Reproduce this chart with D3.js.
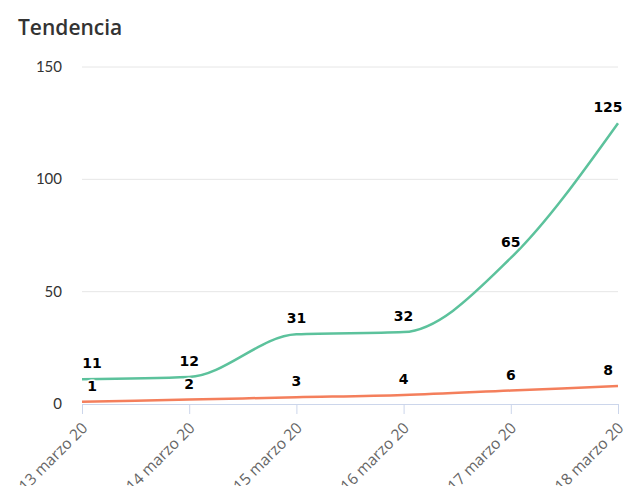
<!DOCTYPE html>
<html>
<head>
<meta charset="utf-8">
<script src="https://cdn.jsdelivr.net/npm/d3@7"></script>
<style>
  body { margin: 0; background: #fff; }
  svg { display: block; font-family: Lato, "Open Sans", sans-serif; }
</style>
</head>
<body>
<svg id="chart" width="630" height="486"></svg>
<script>
// datos del grafico
const fechas = ["13 marzo 20", "14 marzo 20", "15 marzo 20", "16 marzo 20", "17 marzo 20", "18 marzo 20"];
const serieVerde = [11, 12, 31, 32, 65, 125];
const serieNaranja = [1, 2, 3, 4, 6, 8];
const ticksY = [0, 50, 100, 150];

const svg = d3.select("#chart");
const margenIzq = 82, margenDer = 618, margenSup = 67, margenInf = 404;

let x = d3.scalePoint().domain(fechas).range([margenIzq, margenDer]);
let y = d3.scaleLinear().domain([0, 150]).range([margenInf, margenSup]);

svg.append("text")
    .attr("x", 18).attr("y", 35)
    .attr("font-family", "'Open Sans', sans-serif")
    .attr("font-size", 21).attr("font-weight", 600)
    .attr("fill", "#333")
    .text("Tendencia");

// lineas de la cuadricula
svg.append("g").selectAll("line")
    .data(ticksY.filter(d => d > 0))
    .join("line")
    .attr("x1", margenIzq).attr("x2", margenDer)
    .attr("y1", d => y(d)).attr("y2", d => y(d))
    .attr("stroke", "#e6e6e6").attr("stroke-width", 1);

svg.append("g").selectAll("text")
    .data(ticksY)
    .join("text")
    .attr("x", 62).attr("y", d => y(d) + 5)
    .attr("text-anchor", "end")
    .attr("font-size", 15).attr("fill", "#333")
    .text(d => d);

// eje x
let axisX = d3.axisBottom(x).tickSize(10).tickPadding(4);
const gx = svg.append("g").attr("transform", `translate(0,${margenInf})`).call(axisX);
gx.select(".domain").attr("stroke", "#ccd6eb").attr("d", `M${margenIzq},0.5H${margenDer}`);
gx.selectAll(".tick line").attr("stroke", "#ccd6eb");
gx.selectAll(".tick text")
    .attr("font-size", 15.5).attr("fill", "#666")
    .attr("font-family", "'Open Sans', sans-serif")
    .attr("text-anchor", "end")
    .attr("dy", null).attr("y", 0)
    .attr("transform", "translate(6,25) rotate(-45)");

const linea = d3.line()
    .x((d, i) => x(fechas[i]))
    .y(d => y(d))
    .curve(d3.curveMonotoneX);

svg.append("path").datum(serieVerde)
    .attr("d", linea).attr("fill", "none")
    .attr("stroke", "#5cc29c").attr("stroke-width", 2.5);

svg.append("path").datum(serieNaranja)
    .attr("d", linea).attr("fill", "none")
    .attr("stroke", "#f47f5c").attr("stroke-width", 2.5);

const etiquetas = (serie, g) => {
    g.selectAll("text")
        .data(serie)
        .join("text")
        .attr("x", (d, i) => {
            let px = x(fechas[i]);
            if (i === 0) px += 10;
            if (i === serie.length - 1) px -= 10;
            return px;
        })
        .attr("y", d => y(d) - 11)
        .attr("text-anchor", "middle")
        .attr("font-family", "'DejaVu Sans', sans-serif")
        .attr("font-size", 14).attr("font-weight", "bold")
        .attr("fill", "#000")
        .attr("stroke", "#fff").attr("stroke-width", 3)
        .attr("paint-order", "stroke")
        .attr("stroke-linejoin", "round")
        .text(d => d);
};
etiquetas(serieVerde, svg.append("g"));
etiquetas(serieNaranja, svg.append("g"));
</script>
</body>
</html>
